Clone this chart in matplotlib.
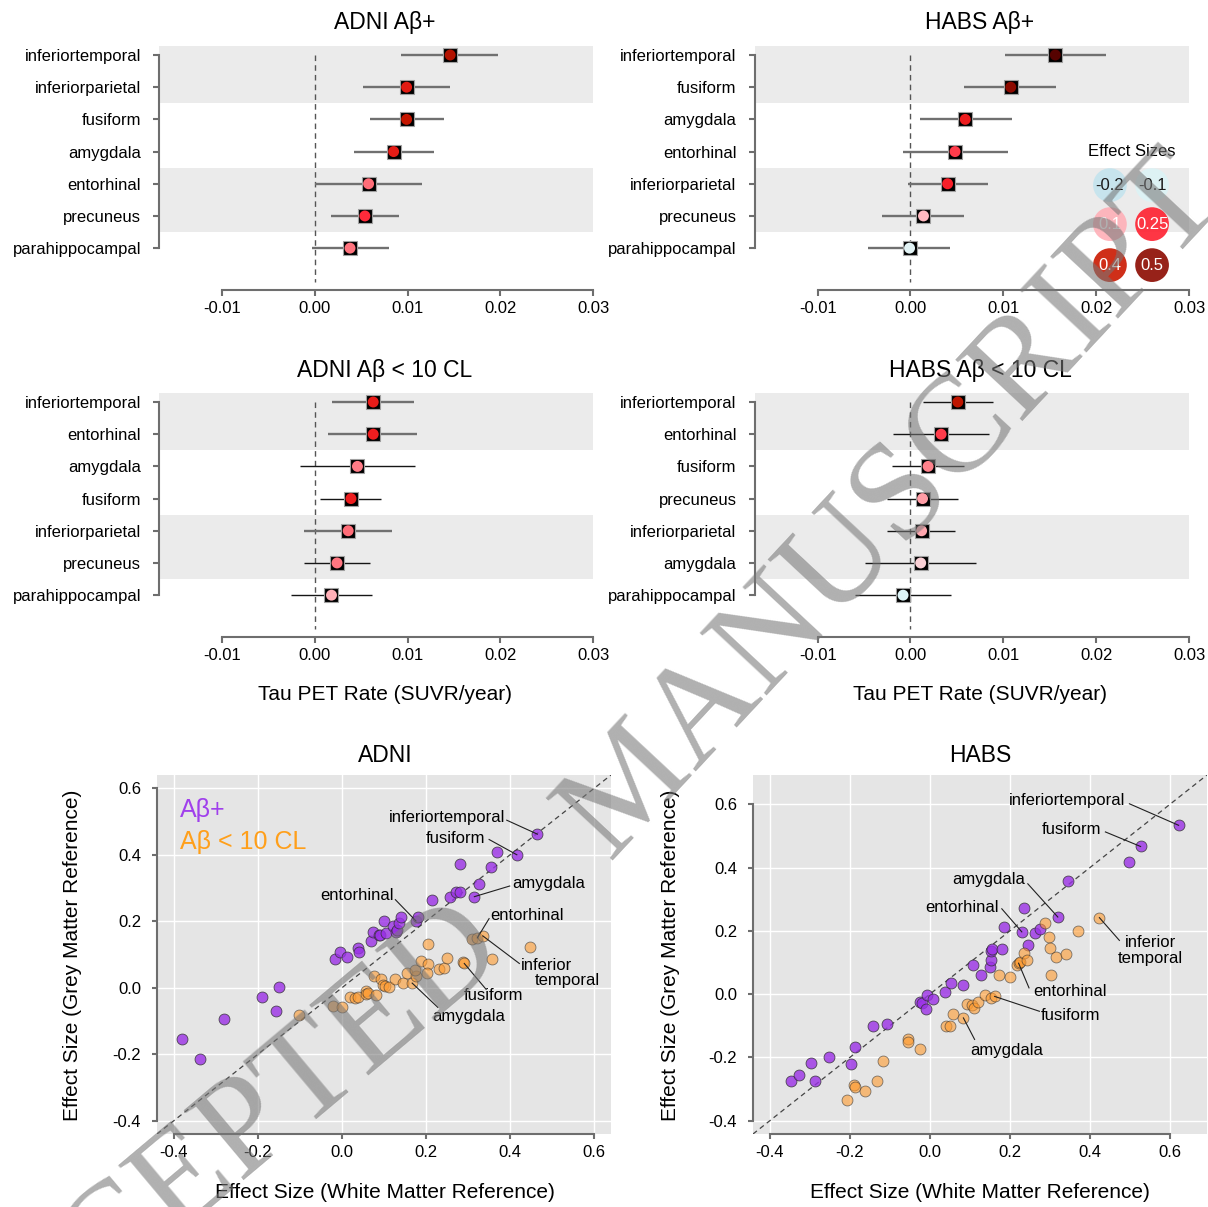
"""Tau PET rates (forest plots) and effect-size comparison (scatter), ADNI vs HABS."""

import matplotlib

matplotlib.use("Agg")
import matplotlib.pyplot as plt
import numpy as np
from matplotlib.colors import LinearSegmentedColormap, Normalize

plt.rcParams["font.family"] = ["Liberation Sans", "DejaVu Sans"]
plt.rcParams["axes.unicode_minus"] = False

# ---------------------------------------------------------------- forest data
REGIONS_ADNI_POS = ["inferiortemporal", "inferiorparietal", "fusiform", "amygdala",
                    "entorhinal", "precuneus", "parahippocampal"]
RATE_ADNI_POS = [0.0146, 0.0099, 0.0099, 0.0085, 0.0058, 0.0054, 0.0038]
LO_ADNI_POS = [0.0093, 0.0052, 0.0059, 0.0042, 0.0000, 0.0017, -0.0003]
HI_ADNI_POS = [0.0198, 0.0146, 0.0139, 0.0129, 0.0116, 0.0091, 0.0080]
ES_ADNI_POS = [0.44, 0.34, 0.41, 0.33, 0.17, 0.24, 0.165]

REGIONS_HABS_POS = ["inferiortemporal", "fusiform", "amygdala", "entorhinal",
                    "inferiorparietal", "precuneus", "parahippocampal"]
RATE_HABS_POS = [0.0156, 0.0108, 0.0059, 0.0048, 0.0040, 0.0014, -0.0001]
LO_HABS_POS = [0.0102, 0.0058, 0.0010, -0.0008, -0.0003, -0.0031, -0.0046]
HI_HABS_POS = [0.0211, 0.0157, 0.0109, 0.0105, 0.0083, 0.0058, 0.0043]
ES_HABS_POS = [0.58, 0.50, 0.30, 0.22, 0.27, 0.09, -0.07]

REGIONS_ADNI_NEG = ["inferiortemporal", "entorhinal", "amygdala", "fusiform",
                    "inferiorparietal", "precuneus", "parahippocampal"]
RATE_ADNI_NEG = [0.0063, 0.0063, 0.0046, 0.0039, 0.0036, 0.0024, 0.0018]
LO_ADNI_NEG = [0.0019, 0.0014, -0.0016, 0.0006, -0.0012, -0.0012, -0.0026]
HI_ADNI_NEG = [0.0107, 0.0110, 0.0108, 0.0071, 0.0083, 0.0059, 0.0062]
ES_ADNI_NEG = [0.32, 0.30, 0.155, 0.30, 0.17, 0.16, 0.10]

REGIONS_HABS_NEG = ["inferiortemporal", "entorhinal", "fusiform", "precuneus",
                    "inferiorparietal", "amygdala", "parahippocampal"]
RATE_HABS_NEG = [0.0051, 0.0033, 0.0019, 0.0013, 0.0012, 0.0011, -0.0008]
LO_HABS_NEG = [0.0014, -0.0019, -0.0020, -0.0025, -0.0025, -0.0049, -0.0060]
HI_HABS_NEG = [0.0089, 0.0085, 0.0058, 0.0051, 0.0048, 0.0071, 0.0044]
ES_HABS_NEG = [0.42, 0.22, 0.15, 0.12, 0.11, 0.05, -0.10]

RATE_TICKS = [-0.01, 0.00, 0.01, 0.02, 0.03]
RATE_TICK_LABELS = ["-0.01", "0.00", "0.01", "0.02", "0.03"]

LEGEND_ES = [-0.2, -0.1, 0.1, 0.25, 0.4, 0.5]
LEGEND_ES_LABELS = ["-0.2", "-0.1", "0.1", "0.25", "0.4", "0.5"]

# --------------------------------------------------------------- scatter data
ADNI_POS_WM = [-0.381, -0.338, -0.281, -0.191, -0.149, -0.156, -0.016, -0.004, 0.011, 0.038,
               0.040, 0.068, 0.074, 0.089, 0.091, 0.099, 0.105, 0.121, 0.129, 0.130,
               0.136, 0.140, 0.176, 0.181, 0.215, 0.256, 0.271, 0.281, 0.281, 0.315,
               0.326, 0.354, 0.368, 0.416, 0.465]
ADNI_POS_GM = [-0.155, -0.215, -0.093, -0.028, 0.002, -0.071, 0.085, 0.107, 0.092, 0.120,
               0.107, 0.142, 0.169, 0.159, 0.158, 0.200, 0.165, 0.187, 0.168, 0.175,
               0.195, 0.213, 0.201, 0.213, 0.265, 0.274, 0.288, 0.288, 0.372, 0.274,
               0.313, 0.362, 0.407, 0.400, 0.462]
ADNI_NEG_WM = [-0.102, -0.022, 0.001, 0.018, 0.032, 0.037, 0.057, 0.056, 0.061, 0.082,
               0.076, 0.093, 0.097, 0.102, 0.112, 0.125, 0.146, 0.155, 0.167, 0.176,
               0.174, 0.187, 0.204, 0.203, 0.204, 0.230, 0.243, 0.251, 0.288, 0.291,
               0.309, 0.322, 0.335, 0.358, 0.448]
ADNI_NEG_GM = [-0.082, -0.054, -0.058, -0.029, -0.032, -0.027, -0.009, -0.020, -0.015, -0.023,
               0.036, 0.027, 0.008, 0.005, 0.002, 0.026, 0.013, 0.043, 0.014, 0.036,
               0.053, 0.080, 0.071, 0.043, 0.131, 0.055, 0.058, 0.088, 0.078, 0.073,
               0.146, 0.150, 0.156, 0.086, 0.124]

HABS_POS_WM = [-0.347, -0.326, -0.297, -0.286, -0.253, -0.198, -0.186, -0.142, -0.106, -0.025,
               -0.020, -0.010, -0.007, 0.008, 0.037, 0.052, 0.082, 0.107, 0.129, 0.151,
               0.152, 0.154, 0.156, 0.180, 0.186, 0.230, 0.235, 0.263, 0.276, 0.245,
               0.320, 0.345, 0.499, 0.527, 0.622]
HABS_POS_GM = [-0.276, -0.254, -0.218, -0.275, -0.197, -0.220, -0.166, -0.102, -0.094, -0.025,
               -0.028, -0.046, -0.004, -0.015, 0.006, 0.035, 0.030, 0.093, 0.061, 0.085,
               0.109, 0.138, 0.143, 0.143, 0.211, 0.197, 0.273, 0.193, 0.206, 0.155,
               0.244, 0.357, 0.418, 0.467, 0.534]
HABS_NEG_WM = [-0.207, -0.189, -0.186, -0.163, -0.132, -0.117, -0.055, -0.054, -0.025, 0.041,
               0.050, 0.057, 0.084, 0.092, 0.106, 0.110, 0.120, 0.138, 0.154, 0.162,
               0.172, 0.200, 0.217, 0.222, 0.226, 0.235, 0.242, 0.289, 0.298, 0.301,
               0.316, 0.340, 0.303, 0.371, 0.424]
HABS_NEG_GM = [-0.333, -0.286, -0.292, -0.305, -0.276, -0.210, -0.141, -0.150, -0.173, -0.102,
               -0.101, -0.064, -0.075, -0.031, -0.034, -0.043, -0.025, -0.002, -0.013, -0.007,
               0.061, 0.054, 0.093, 0.098, 0.103, 0.131, 0.109, 0.225, 0.180, 0.147,
               0.119, 0.126, 0.061, 0.201, 0.242]

ES_TICKS = [-0.4, -0.2, 0.0, 0.2, 0.4, 0.6]
ES_TICK_LABELS = ["-0.4", "-0.2", "0.0", "0.2", "0.4", "0.6"]

# annotated regions: (label, index into series, "pos"/"neg", text centre, line start)
ADNI_NOTES = [
    ("inferiortemporal", 34, "pos", (0.250, 0.512), (0.392, 0.504)),
    ("fusiform", 33, "pos", (0.270, 0.448), (0.350, 0.446)),
    ("amygdala", 29, "pos", (0.491, 0.313), (0.399, 0.306)),
    ("entorhinal", 22, "pos", (0.036, 0.278), (0.127, 0.265)),
    ("entorhinal", 31, "neg", (0.441, 0.218), (0.350, 0.208)),
    ("inferior", 32, "neg", (0.486, 0.067), (0.422, 0.073)),
    ("temporal", None, "neg", (0.536, 0.023), None),
    ("fusiform", 29, "neg", (0.361, -0.022), (0.343, -0.005)),
    ("amygdala", 18, "neg", (0.301, -0.087), (0.228, -0.059)),
]
HABS_NOTES = [
    ("inferiortemporal", 34, "pos", (0.342, 0.613), (0.499, 0.602)),
    ("fusiform", 33, "pos", (0.355, 0.520), (0.439, 0.513)),
    ("amygdala", 30, "pos", (0.147, 0.362), (0.245, 0.349)),
    ("entorhinal", 25, "pos", (0.081, 0.273), (0.180, 0.270)),
    ("inferior", 34, "neg", (0.552, 0.162), (0.474, 0.170)),
    ("temporal", None, "neg", (0.552, 0.112), None),
    ("entorhinal", 23, "neg", (0.351, 0.009), (0.248, 0.020)),
    ("fusiform", 19, "neg", (0.351, -0.068), (0.274, -0.054)),
    ("amygdala", 12, "neg", (0.191, -0.178), (0.112, -0.143)),
]

# ------------------------------------------------------------------- styling
W, H = 1208, 1207
AXIS_GREY = "#6E6E6E"
BAND = "#EBEBEB"
PURPLE = "#9A30E6"
ORANGE = "#FF9A2E"

ES_CMAP = LinearSegmentedColormap.from_list(
    "es",
    [(0.0, "#C4E4EE"), (0.125, "#DCF3F6"), (0.25, "#F2F2F4"), (0.375, "#FFB0B8"),
     (0.5625, "#FF2030"), (0.75, "#CC1800"), (0.875, "#8C0A00"), (1.0, "#4A0000")],
)
ES_NORM = Normalize(-0.2, 0.6)


def fig_box(left, top, right, bottom):
    """Pixel box of the reference -> add_axes rectangle."""
    return [left / W, 1 - bottom / H, (right - left) / W, (bottom - top) / H]


def forest(ax, regions, rate, lo, hi, es, ci_dark):
    n = len(regions)
    y = np.arange(n)
    ax.set_xlim(-0.0168, 0.03)
    ax.set_ylim(7.30, -0.28)
    ax.axhspan(-0.5, 1.5, color=BAND, lw=0, zorder=0)
    ax.axhspan(3.5, 5.5, color=BAND, lw=0, zorder=0)
    ax.vlines(0, 0, 7.05, colors="#555555", linestyles=(0, (4, 3)), lw=1.0, zorder=1)
    for i in range(n):
        if ci_dark[i]:
            ax.hlines(y[i], lo[i], hi[i], colors="#151515", lw=1.0, zorder=2)
        else:
            ax.hlines(y[i], lo[i], hi[i], colors="#707070", lw=1.7, zorder=2)
    ax.plot(rate, y, "s", ms=10.6, mfc="black", mec="#A0A0A0", mew=0.8, zorder=3)
    ax.scatter(rate, y, s=62, c=ES_CMAP(ES_NORM(np.asarray(es))), lw=0, zorder=4)

    for side in ("top", "right"):
        ax.spines[side].set_visible(False)
    for side in ("left", "bottom"):
        ax.spines[side].set_color(AXIS_GREY)
        ax.spines[side].set_linewidth(1.5)
    ax.spines["left"].set_bounds(0, n - 1)
    ax.spines["bottom"].set_bounds(-0.01, 0.03)
    ax.set_yticks(y, regions)
    ax.set_xticks(RATE_TICKS, RATE_TICK_LABELS)
    ax.tick_params(axis="y", length=4.5, width=1.5, color=AXIS_GREY, pad=8.5, labelsize=12)
    ax.tick_params(axis="x", length=4.5, width=1.5, color=AXIS_GREY, pad=3.5, labelsize=12)


def scatter_panel(ax, pos_wm, pos_gm, neg_wm, neg_gm, lim, notes):
    ax.set_facecolor("#E5E5E5")
    ax.set_xlim(lim)
    ax.set_ylim(lim)
    ax.set_xticks(ES_TICKS, ES_TICK_LABELS)
    ax.set_yticks(ES_TICKS, ES_TICK_LABELS)
    ax.grid(color="white", lw=1.0)
    ax.set_axisbelow(True)
    ax.plot(lim, lim, color="#444444", ls=(0, (4, 3)), lw=0.9, zorder=1)
    ax.scatter(pos_wm, pos_gm, s=62, c=PURPLE, alpha=0.8, edgecolors="#303030",
               linewidths=0.6, zorder=3)
    ax.scatter(neg_wm, neg_gm, s=62, c=ORANGE, alpha=0.6, edgecolors="#303030",
               linewidths=0.6, zorder=3)

    for label, idx, group, (tx, ty), start in notes:
        ax.text(tx, ty, label, ha="center", va="center", fontsize=12, zorder=5)
        if idx is None:
            continue
        px = pos_wm[idx] if group == "pos" else neg_wm[idx]
        py = pos_gm[idx] if group == "pos" else neg_gm[idx]
        ax.plot([start[0], px], [start[1], py], color="#202020", lw=0.8, zorder=4)

    for side in ("top", "right"):
        ax.spines[side].set_visible(False)
    for side in ("left", "bottom"):
        ax.spines[side].set_color(AXIS_GREY)
        ax.spines[side].set_linewidth(1.5)
        ax.spines[side].set_bounds(-0.4, 0.6)
    ax.tick_params(axis="y", length=3.5, width=1.5, color=AXIS_GREY, pad=8, labelsize=12)
    ax.tick_params(axis="x", length=3.5, width=1.5, color=AXIS_GREY, pad=4.5, labelsize=12)


fig = plt.figure(figsize=(W / 100, H / 100), dpi=100)

ax_tl = fig.add_axes(fig_box(159, 46, 593, 290))
ax_tr = fig.add_axes(fig_box(754.5, 46, 1189, 290))
ax_ml = fig.add_axes(fig_box(159, 393, 593, 637))
ax_mr = fig.add_axes(fig_box(754.5, 393, 1189, 637))
ax_bl = fig.add_axes(fig_box(157, 775, 611, 1134))
ax_br = fig.add_axes(fig_box(753, 775, 1207, 1134))

forest(ax_tl, REGIONS_ADNI_POS, RATE_ADNI_POS, LO_ADNI_POS, HI_ADNI_POS, ES_ADNI_POS,
       [False] * 7)
forest(ax_tr, REGIONS_HABS_POS, RATE_HABS_POS, LO_HABS_POS, HI_HABS_POS, ES_HABS_POS,
       [False] * 7)
forest(ax_ml, REGIONS_ADNI_NEG, RATE_ADNI_NEG, LO_ADNI_NEG, HI_ADNI_NEG, ES_ADNI_NEG,
       [False, False, True, True, False, True, True])
forest(ax_mr, REGIONS_HABS_NEG, RATE_HABS_NEG, LO_HABS_NEG, HI_HABS_NEG, ES_HABS_NEG,
       [True] * 7)

# effect size key inside the HABS A-beta+ panel
key_x = [0.818, 0.915, 0.818, 0.915, 0.818, 0.915]
key_y = [0.430, 0.430, 0.270, 0.270, 0.102, 0.102]
ax_tr.scatter(key_x, key_y, s=590, c=ES_CMAP(ES_NORM(np.asarray(LEGEND_ES))), lw=0,
              alpha=0.9, transform=ax_tr.transAxes, clip_on=False, zorder=5)
for kx, ky, val, txt in zip(key_x, key_y, LEGEND_ES, LEGEND_ES_LABELS):
    ax_tr.text(kx, ky, txt, transform=ax_tr.transAxes, ha="center", va="center",
               fontsize=12, color="#1A1A1A" if val < 0 else "white", zorder=6)
ax_tr.text(0.869, 0.566, "Effect Sizes", transform=ax_tr.transAxes, ha="center",
           va="center", fontsize=12, zorder=6)

scatter_panel(ax_bl, ADNI_POS_WM, ADNI_POS_GM, ADNI_NEG_WM, ADNI_NEG_GM, (-0.44, 0.64),
              ADNI_NOTES)
scatter_panel(ax_br, HABS_POS_WM, HABS_POS_GM, HABS_NEG_WM, HABS_NEG_GM, (-0.442, 0.693),
              HABS_NOTES)
ax_bl.text(-0.385, 0.534, "Aβ+", color="#A040EC", fontsize=18, ha="left", va="center")
ax_bl.text(-0.385, 0.438, "Aβ < 10 CL", color="#FF9F1A", fontsize=18, ha="left", va="center")


def ftext(px, py, s, **kw):
    fig.text(px / W, 1 - py / H, s, ha="center", va="center", **kw)


ftext(385, 23, "ADNI Aβ+", fontsize=16.5)
ftext(980, 23, "HABS Aβ+", fontsize=16.5)
ftext(385, 371, "ADNI Aβ < 10 CL", fontsize=16.5)
ftext(980, 371, "HABS Aβ < 10 CL", fontsize=16.5)
ftext(385, 695, "Tau PET Rate (SUVR/year)", fontsize=15)
ftext(980, 695, "Tau PET Rate (SUVR/year)", fontsize=15)
ftext(385, 756, "ADNI", fontsize=16.5)
ftext(980, 756, "HABS", fontsize=16.5)
ftext(385, 1193, "Effect Size (White Matter Reference)", fontsize=15)
ftext(980, 1193, "Effect Size (White Matter Reference)", fontsize=15)
ftext(73, 955, "Effect Size (Grey Matter Reference)", fontsize=15, rotation=90)
ftext(670, 955, "Effect Size (Grey Matter Reference)", fontsize=15, rotation=90)

# journal watermark, slightly bent in the original: two words at two angles
# (the first word runs off the bottom-left corner in the original as well)
mark = dict(rotation_mode="anchor", fontsize=101, family="Liberation Serif",
            color="#777777", alpha=0.58, zorder=20)
ftext(210, 1164, "ACCEPTED", rotation=40, **mark)
ftext(893, 507, "MANUSCRIPT", rotation=47, **mark)

fig.savefig("out.png", dpi=100)
plt.close(fig)
